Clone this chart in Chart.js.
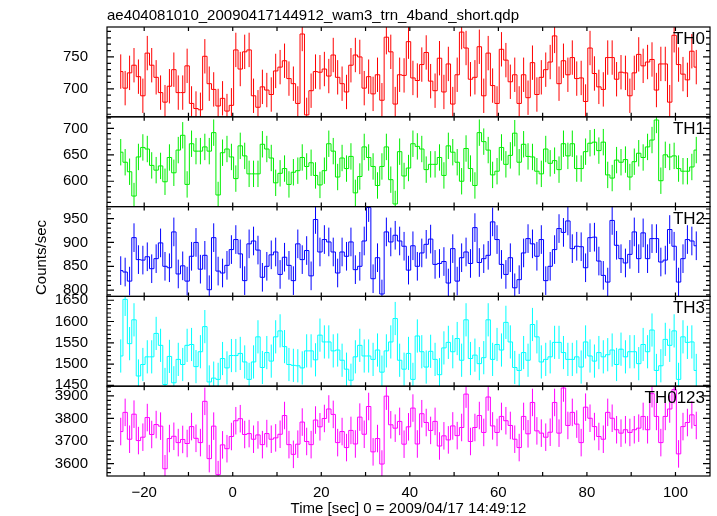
<!DOCTYPE html>
<html>
<head>
<meta charset="utf-8">
<script src="https://cdn.jsdelivr.net/npm/chart.js@4.4.1/dist/chart.umd.min.js"></script>
<style>
html, body { margin: 0; padding: 0; background: #fff; }
</style>
</head>
<body>
<canvas id="lc" width="717" height="516"></canvas>
<script>
// 1 s bins, first bin centre
const binStart = -25.3
const binWidth = 1

const th0 = [727, 701, 725, 737, 719, 689, 756, 737, 718, 694,
    679, 704, 730, 694, 694, 736, 677, 669, 667, 751,
    708, 699, 673, 685, 665, 674, 761, 731, 758, 761,
    689, 671, 703, 698, 691, 728, 734, 744, 716, 708,
    677, 786, 659, 697, 727, 726, 731, 720, 753, 718,
    708, 695, 737, 753, 750, 701, 719, 692, 722, 682,
    781, 758, 676, 722, 721, 774, 717, 713, 738, 757,
    712, 697, 748, 695, 739, 676, 722, 789, 764, 715,
    718, 766, 689, 756, 705, 677, 762, 745, 711, 722,
    677, 722, 686, 741, 691, 718, 730, 742, 783, 708,
    744, 722, 749, 716, 717, 680, 764, 724, 703, 699,
    749, 749, 715, 726, 725, 689, 725, 754, 736, 742,
    746, 698, 739, 739, 679, 784, 738, 723, 714, 759,
    734]
const th1 = [655, 636, 618, 572, 646, 664, 661, 630, 621, 629,
    599, 645, 616, 659, 687, 594, 671, 657, 657, 665,
    657, 692, 574, 654, 661, 646, 605, 667, 648, 614,
    614, 614, 670, 661, 644, 597, 615, 624, 594, 617,
    620, 645, 628, 635, 611, 593, 620, 671, 657, 608,
    644, 624, 647, 578, 609, 665, 645, 628, 592, 628,
    665, 603, 557, 656, 610, 625, 671, 666, 661, 622,
    632, 632, 645, 611, 667, 655, 636, 600, 662, 624,
    592, 692, 675, 659, 612, 619, 664, 632, 649, 691,
    636, 670, 647, 646, 619, 614, 661, 634, 639, 622,
    671, 648, 671, 624, 624, 656, 672, 674, 658, 674,
    612, 606, 640, 636, 641, 608, 637, 653, 645, 665,
    678, 716, 601, 650, 646, 648, 624, 619, 619, 627,
    659]
const th2 = [841, 838, 819, 910, 864, 863, 870, 845, 866, 899,
    850, 847, 922, 834, 851, 819, 871, 900, 844, 873,
    801, 910, 840, 836, 852, 885, 906, 876, 820, 897,
    903, 884, 827, 850, 874, 880, 833, 869, 852, 820,
    897, 864, 883, 830, 948, 880, 906, 901, 880, 836,
    880, 871, 901, 843, 850, 903, 973, 824, 868, 792,
    922, 901, 915, 903, 892, 842, 893, 850, 878, 896,
    907, 854, 856, 860, 815, 887, 819, 868, 880, 856,
    931, 858, 866, 873, 943, 906, 854, 833, 868, 805,
    822, 878, 908, 897, 871, 906, 820, 850, 885, 929,
    921, 945, 887, 892, 891, 847, 910, 911, 861, 831,
    817, 946, 894, 866, 857, 875, 922, 866, 920, 866,
    908, 908, 859, 863, 927, 892, 817, 866, 906, 903,
    893]
const th3 = [1519, 1652, 1548, 1604, 1472, 1499, 1517, 1517, 1572, 1544,
    1452, 1518, 1456, 1511, 1499, 1544, 1546, 1494, 1529, 1588,
    1458, 1467, 1464, 1513, 1491, 1520, 1520, 1525, 1505, 1464,
    1505, 1564, 1492, 1527, 1507, 1564, 1578, 1541, 1499, 1497,
    1496, 1491, 1531, 1531, 1510, 1568, 1552, 1552, 1531, 1533,
    1509, 1488, 1462, 1517, 1544, 1519, 1519, 1511, 1533, 1481,
    1531, 1552, 1607, 1509, 1488, 1525, 1464, 1566, 1529, 1493,
    1530, 1511, 1475, 1538, 1551, 1529, 1560, 1509, 1604, 1513,
    1521, 1501, 1515, 1604, 1511, 1546, 1533, 1598, 1552, 1492,
    1485, 1527, 1509, 1593, 1564, 1505, 1511, 1517, 1551, 1551,
    1527, 1511, 1511, 1517, 1493, 1552, 1519, 1507, 1527, 1517,
    1522, 1533, 1499, 1535, 1517, 1529, 1529, 1501, 1546, 1529,
    1580, 1485, 1496, 1558, 1544, 1578, 1464, 1564, 1551, 1552,
    1485]
const th0123 = [3742, 3827, 3708, 3819, 3702, 3717, 3804, 3729, 3773, 3766,
    3577, 3711, 3721, 3693, 3707, 3689, 3764, 3712, 3693, 3876,
    3622, 3766, 3551, 3683, 3666, 3720, 3790, 3799, 3729, 3733,
    3708, 3727, 3684, 3733, 3708, 3714, 3730, 3813, 3684, 3641,
    3686, 3784, 3698, 3684, 3793, 3763, 3800, 3842, 3818, 3693,
    3742, 3671, 3747, 3687, 3806, 3730, 3853, 3652, 3711, 3598,
    3899, 3772, 3757, 3787, 3686, 3763, 3846, 3687, 3821, 3782,
    3747, 3787, 3678, 3723, 3705, 3767, 3724, 3760, 3908, 3698,
    3760, 3813, 3738, 3895, 3767, 3738, 3809, 3790, 3769, 3708,
    3671, 3809, 3732, 3871, 3745, 3735, 3717, 3739, 3871, 3735,
    3935, 3769, 3827, 3775, 3693, 3850, 3801, 3764, 3720, 3708,
    3827, 3801, 3750, 3735, 3750, 3738, 3750, 3757, 3809, 3750,
    3910, 3809, 3693, 3809, 3842, 3928, 3643, 3764, 3782, 3816,
    3769]

// typical 1-sigma error bar of each band
const errors = [27, 25, 30, 39, 61]

const bandNames = ['TH0', 'TH1', 'TH2', 'TH3', 'TH0123']
const bandColors = ['#ff0000', '#00ee00', '#0000ff', '#00ffff', '#ff00ff']
const th0Ticks = [700, 750]
const th1Ticks = [600, 650, 700]
const th2Ticks = [800, 850, 900, 950]
const th3Ticks = [1450, 1500, 1550, 1600, 1650]
const th0123Ticks = [3600, 3700, 3800, 3900]
const xTicks = [-20, 0, 20, 40, 60, 80, 100]

const plotTitle = 'ae404081010_20090417144912_wam3_trn_4band_short.qdp'
const xTitle = 'Time [sec] 0 = 2009/04/17 14:49:12'
const yTitle = 'Counts/sec'

const times = th0.map((v, i) => binStart + i * binWidth)

const font = '"Liberation Sans", Arial, Helvetica, sans-serif'

const panels = [
    { id: 'y0', values: th0, ticks: th0Ticks, min: 656, max: 797, minor: 10 },
    { id: 'y1', values: th1, ticks: th1Ticks, min: 552, max: 722, minor: 10 },
    { id: 'y2', values: th2, ticks: th2Ticks, min: 787, max: 975, minor: 10 },
    { id: 'y3', values: th3, ticks: th3Ticks, min: 1448, max: 1659, minor: 10 },
    { id: 'y4', values: th0123, ticks: th0123Ticks, min: 3545, max: 3943, minor: 20 }
]

const plainNumber = v => (v < 0 ? '\u2212' + Math.abs(v) : String(v))

const scales = {
    x: {
        type: 'linear',
        min: -28.4,
        max: 107.8,
        grid: { display: false },
        border: { display: false },
        afterBuildTicks: s => { s.ticks = xTicks.map(v => ({ value: v })) },
        ticks: { color: '#000', font: { family: font, size: 15 }, padding: 0, maxRotation: 0, autoSkip: false, callback: plainNumber },
        title: { display: true, text: xTitle, color: '#000', font: { family: font, size: 15 }, padding: { top: 0, bottom: -2 } },
        afterFit: s => { s.height = 40 }
    }
}

panels.forEach((p, i) => {
    scales[p.id] = {
        type: 'linear',
        position: 'left',
        stack: 'bands',
        stackWeight: 1,
        weight: 10 - i,
        min: p.min,
        max: p.max,
        grid: { display: false },
        border: { display: false },
        afterBuildTicks: s => { s.ticks = p.ticks.map(v => ({ value: v })) },
        ticks: { color: '#000', font: { family: font, size: 15 }, padding: 11, autoSkip: false, callback: plainNumber },
        afterFit: s => { s.width = 107 }
    }
})

const datasets = panels.map((p, i) => ({
    label: bandNames[i],
    yAxisID: p.id,
    data: p.values.map((v, k) => ({ x: times[k], y: v })),
    borderColor: bandColors[i],
    borderWidth: 1,
    pointRadius: 0,
    stepped: 'middle',
    fill: false
}))

// qdp style frames, inward ticks, error bars and band labels
const qdpFrame = {
    id: 'qdpFrame',
    beforeDatasetsDraw(chart) {
        const ctx = chart.ctx
        const xs = chart.scales.x
        const area = chart.chartArea
        panels.forEach((p, i) => {
            const ys = chart.scales[p.id]
            ctx.save()
            ctx.beginPath()
            ctx.rect(area.left, ys.top, area.right - area.left, ys.bottom - ys.top)
            ctx.clip()
            ctx.strokeStyle = bandColors[i]
            ctx.lineWidth = 1
            ctx.beginPath()
            p.values.forEach((v, k) => {
                const x = xs.getPixelForValue(times[k])
                ctx.moveTo(x, ys.getPixelForValue(v - errors[i]))
                ctx.lineTo(x, ys.getPixelForValue(v + errors[i]))
            })
            ctx.stroke()
            ctx.restore()
        })
    },
    afterDraw(chart) {
        const ctx = chart.ctx
        const xs = chart.scales.x
        const area = chart.chartArea
        ctx.save()
        ctx.strokeStyle = '#000'
        ctx.lineWidth = 1.2
        panels.forEach((p, i) => {
            const ys = chart.scales[p.id]
            ctx.strokeRect(area.left, ys.top, area.right - area.left, ys.bottom - ys.top)
            ctx.beginPath()
            const first = Math.ceil(ys.min / p.minor) * p.minor
            for (let v = first; v <= ys.max; v += p.minor) {
                const y = ys.getPixelForValue(v)
                const len = p.ticks.includes(v) ? 7 : 4
                ctx.moveTo(area.left, y)
                ctx.lineTo(area.left + len, y)
                ctx.moveTo(area.right, y)
                ctx.lineTo(area.right - len, y)
            }
            for (let v = -20; v <= 100; v += 10) {
                const x = xs.getPixelForValue(v)
                ctx.moveTo(x, ys.top)
                ctx.lineTo(x, ys.top + 4)
                ctx.moveTo(x, ys.bottom)
                ctx.lineTo(x, ys.bottom - 4)
            }
            ctx.stroke()

            ctx.fillStyle = '#000'
            ctx.font = '17px ' + font
            ctx.textAlign = 'right'
            ctx.textBaseline = 'alphabetic'
            ctx.fillText(bandNames[i], area.right - 5, ys.top + 17)
        })

        ctx.fillStyle = '#000'
        ctx.font = '15px ' + font
        ctx.textAlign = 'left'
        ctx.textBaseline = 'alphabetic'
        ctx.fillText(plotTitle, area.left, 20)

        ctx.translate(42, (area.top + area.bottom) / 2 + 6)
        ctx.rotate(-Math.PI / 2)
        ctx.textAlign = 'center'
        ctx.textBaseline = 'middle'
        ctx.fillText(yTitle, 0, 0)
        ctx.restore()
    }
}

new Chart('lc', {
    type: 'line',
    data: { datasets: datasets },
    options: {
        responsive: false,
        animation: false,
        layout: { padding: { left: 0, right: 7, top: 27, bottom: 0 } },
        scales: scales,
        plugins: {
            legend: { display: false },
            tooltip: { enabled: false }
        }
    },
    plugins: [qdpFrame]
})
</script>
</body>
</html>
